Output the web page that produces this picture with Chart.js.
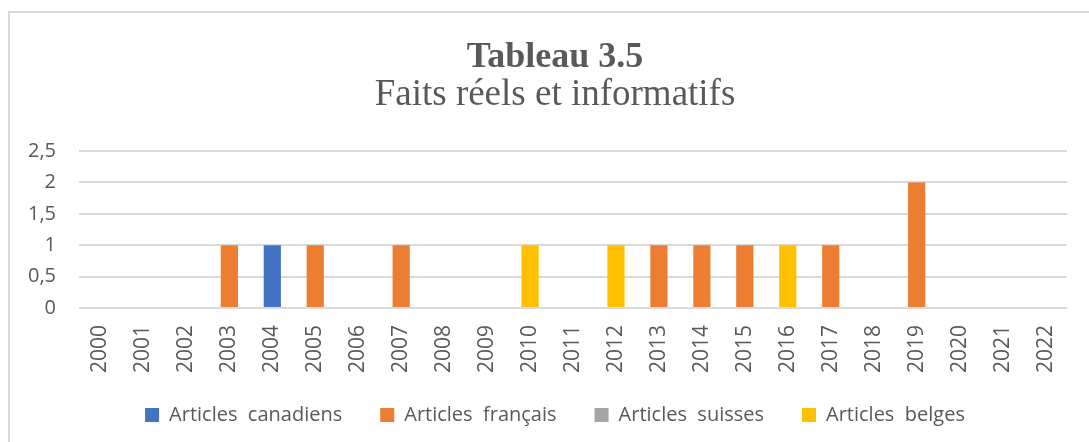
<!DOCTYPE html>
<html>
<head>
<meta charset="utf-8">
<script src="https://cdn.jsdelivr.net/npm/chart.js@4"></script>
<style>
  html, body { margin:0; padding:0; background:#fff; overflow:hidden; width:1089px; height:442px; }
  #frame { position:absolute; left:8px; top:11px; width:1095px; height:450px; border-left:2px solid #d9d9d9; border-top:2px solid #d9d9d9; }
  #wrap { position:absolute; left:0; top:0; width:1090px; height:422px; }
</style>
</head>
<body>
<div id="frame"><div id="wrap"><canvas id="c"></canvas></div></div>
<script>
const years = ['2000','2001','2002','2003','2004','2005','2006','2007','2008','2009','2010','2011','2012','2013','2014','2015','2016','2017','2018','2019','2020','2021','2022'];
const canadiens = [0,0,0,0,1,0,0,0,0,0,0,0,0,0,0,0,0,0,0,0,0,0,0];
const francais  = [0,0,0,1,0,1,0,1,0,0,0,0,0,1,1,1,0,1,0,2,0,0,0];
const suisses   = [0,0,0,0,0,0,0,0,0,0,0,0,0,0,0,0,0,0,0,0,0,0,0];
const belges    = [0,0,0,0,0,0,0,0,0,0,1,0,1,0,0,0,1,0,0,0,0,0,0];
const seriesNames = ['Articles  canadiens','Articles  français','Articles  suisses','Articles  belges'];
const seriesColors = ['#4472C4','#ED7D31','#A5A5A5','#FFC000'];
const yTicks = [0,0.5,1,1.5,2,2.5];

const txt = '#595959';
const sans = "'Open Sans', 'Liberation Sans', sans-serif";
const serif = "'Liberation Serif', 'DejaVu Serif', serif";

// do not clip the category labels to the (compact) axis box
const CategoryScale = Chart.registry.getScale('category');
CategoryScale.prototype._computeLabelArea = function () { return undefined; };

const data = {
  labels: years,
  datasets: [canadiens, francais, suisses, belges].map((d,i)=>({
    label: seriesNames[i],
    data: d,
    backgroundColor: seriesColors[i],
    borderWidth: 0,
    barPercentage: 0.4,
    categoryPercentage: 1.0
  }))
};

new Chart(document.getElementById('c'), {
  type: 'bar',
  data,
  options: {
    responsive: true,
    maintainAspectRatio: false,
    animation: false,
    layout: { padding: 0 },
    plugins: {
      title: {
        display: true,
        text: 'Tableau 3.5',
        color: txt,
        font: { family: serif, size: 36, weight: 'bold', lineHeight: 1 },
        padding: { top: 27, bottom: 1 }
      },
      subtitle: {
        display: true,
        text: 'Faits réels et informatifs',
        color: txt,
        font: { family: serif, size: 37, weight: 'normal', lineHeight: 1 },
        padding: { top: 0, bottom: 37 }
      },
      legend: {
        position: 'bottom',
        labels: {
          color: txt,
          font: { family: sans, size: 20 },
          boxWidth: 14,
          boxHeight: 14,
          padding: 38
        }
      },
      tooltip: { enabled: false }
    },
    scales: {
      x: {
        stacked: true,
        grid: { display: false, drawTicks: false },
        border: { display: false },
        ticks: { color: txt, font: { family: sans, size: 21 }, minRotation: 90, maxRotation: 90, padding: 17, autoSkip: false },
        afterFit: (s) => { s.height = 59; }
      },
      y: {
        stacked: true,
        min: 0,
        max: 2.5,
        afterBuildTicks: (s) => { s.ticks = yTicks.map(v => ({ value: v })); },
        grid: { color: '#d9d9d9', lineWidth: 2, drawTicks: false },
        border: { display: false },
        ticks: {
          color: txt,
          font: { family: sans, size: 20 },
          padding: 23,
          callback: (v) => String(v).replace('.', ',')
        },
        afterFit: (s) => { s.width = 69; }
      },
      yr: {
        position: 'right',
        display: true,
        grid: { display: false, drawTicks: false },
        border: { display: false },
        ticks: { display: false },
        afterFit: (s) => { s.width = 33; }
      }
    }
  }
});
</script>
</body>
</html>
